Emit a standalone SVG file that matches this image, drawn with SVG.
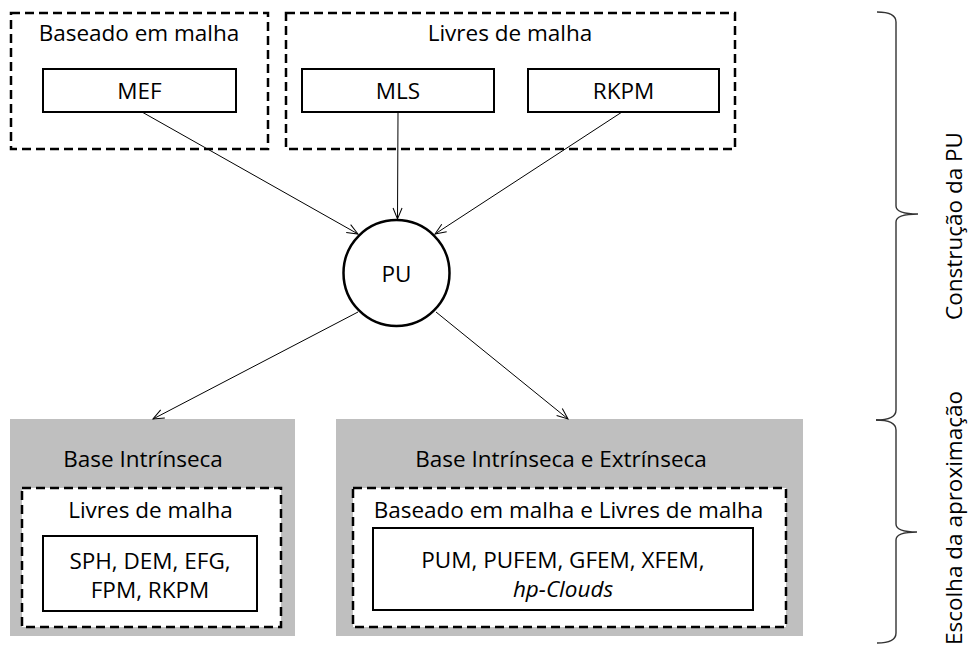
<svg xmlns="http://www.w3.org/2000/svg" width="970" height="645" viewBox="0 0 970 645">
<defs>
<style>
text{font-family:"Open Sans","Liberation Sans",sans-serif;font-size:22.5px;fill:#000;text-anchor:middle}
.dash{fill:#fff;stroke:#000;stroke-width:2.5;stroke-dasharray:9 5}
.solid{fill:#fff;stroke:#000;stroke-width:2}
.gray{fill:#bfbfbf;stroke:none}
.conn{stroke:#000;stroke-width:1;fill:none}
.brace{stroke:#333;stroke-width:1.4;fill:none}
</style>
<marker id="arr" markerUnits="userSpaceOnUse" viewBox="-12 -6 14 12" refX="0" refY="0" markerWidth="14" markerHeight="12" orient="auto">
<path d="M-11,-4.5 L0,0 L-11,4.5" fill="none" stroke="#000" stroke-width="1"/>
</marker>
</defs>
<rect width="970" height="645" fill="#fff"/>

<g id="grupo-baseado">
<rect class="dash" x="11" y="13" width="257" height="136"/>
<text x="139" y="41">Baseado em malha</text>
</g>
<g id="grupo-livres">
<rect class="dash" x="286" y="13" width="449" height="136"/>
<text x="510" y="41">Livres de malha</text>
</g>
<g id="mef">
<rect class="solid" x="43" y="69" width="193" height="43"/>
<text x="139.5" y="99">MEF</text>
</g>
<g id="mls">
<rect class="solid" x="302" y="69" width="192" height="43"/>
<text x="398" y="99">MLS</text>
</g>
<g id="rkpm">
<rect class="solid" x="528" y="69" width="191" height="43"/>
<text x="623.5" y="99">RKPM</text>
</g>
<g id="pu">
<circle cx="396.5" cy="273" r="53" fill="#fff" stroke="#000" stroke-width="2.5"/>
<text x="396.5" y="282">PU</text>
</g>

<g id="base-intrinseca">
<rect class="gray" x="10" y="419" width="285" height="217"/>
<text x="143" y="467">Base Intrínseca</text>
<rect class="dash" x="22" y="488" width="259" height="139"/>
<text x="150.5" y="518">Livres de malha</text>
<rect class="solid" x="43" y="536" width="214" height="75"/>
<text x="150" y="569">SPH, DEM, EFG,</text>
<text x="150" y="598">FPM, RKPM</text>
</g>
<g id="base-intrinseca-extrinseca">
<rect class="gray" x="336" y="419" width="467" height="217"/>
<text x="561" y="467">Base Intrínseca e Extrínseca</text>
<rect class="dash" x="353" y="488" width="433" height="139"/>
<text x="568.5" y="518">Baseado em malha e Livres de malha</text>
<rect class="solid" x="373" y="528" width="380" height="82"/>
<text x="563" y="568">PUM, PUFEM, GFEM, XFEM,</text>
<text x="563" y="597" font-style="italic">hp-Clouds</text>
</g>

<g id="conectores">
<line class="conn" x1="142" y1="112" x2="358" y2="234" marker-end="url(#arr)"/>
<line class="conn" x1="398" y1="112" x2="397.5" y2="219" marker-end="url(#arr)"/>
<line class="conn" x1="622" y1="112" x2="435" y2="234" marker-end="url(#arr)"/>
<line class="conn" x1="358" y1="312" x2="153" y2="419" marker-end="url(#arr)"/>
<line class="conn" x1="436" y1="312" x2="568" y2="419" marker-end="url(#arr)"/>
</g>

<g id="chave-construcao">
<path class="brace" d="M877,12 Q896,12 896,22 L896,206 Q896,214 918,214 Q896,214 896,222 L896,410 Q896,420 876,420"/>
<text transform="translate(962,226) rotate(-90)">Construção da PU</text>
</g>
<g id="chave-escolha">
<path class="brace" d="M876,420 Q896,420 896,430 L896,524 Q896,532 917,532 Q896,532 896,540 L896,633 Q896,643 877,643"/>
<text transform="translate(962,391) rotate(-90)" style="text-anchor:end">Escolha da aproximação</text>
</g>
</svg>
